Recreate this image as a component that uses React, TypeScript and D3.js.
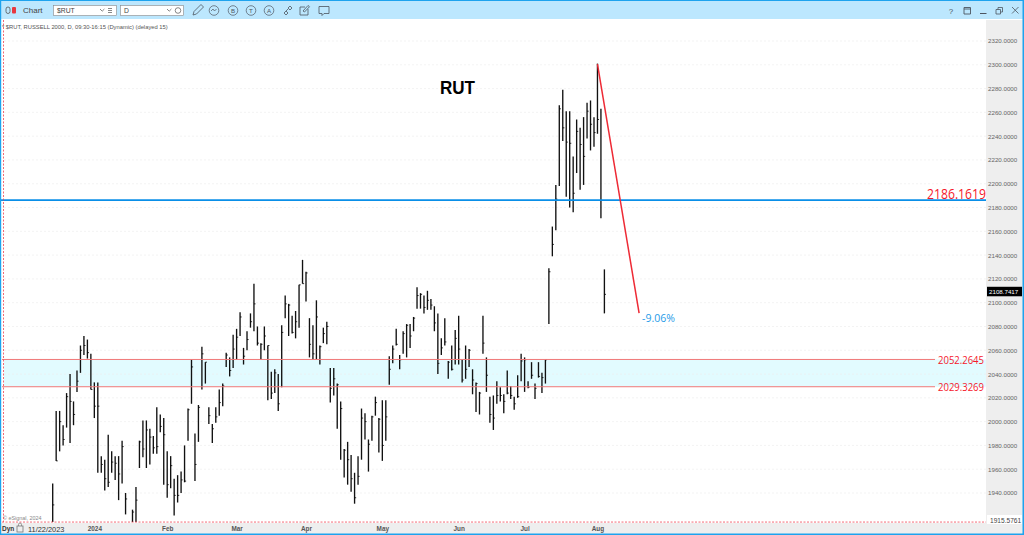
import React, { useRef, useEffect } from 'react';
import * as d3 from 'd3';

// daily bars, first bar is around 22 Dec 2023
const highs = [
  1948, 2009, 2009, 1997, 2024, 2040, 2017, 2043, 2064, 2072, 2069, 2057, 2033, 2033, 1971, 1968, 1989, 1975, 1971, 1971,
  1984, 1940, 1912, 1926, 1945, 1984, 2001, 2001, 1994, 1988, 2012, 2006, 2003, 1975, 1971, 1952, 1955, 1958, 1980, 2011,
  2052, 1990, 2014, 2063, 2050, 2012, 1998, 2012, 2027, 2032, 2058, 2054, 2073, 2078, 2092, 2062, 2076, 2091, 2116, 2080,
  2066, 2080, 2064, 2042, 2044, 2040, 2081, 2106, 2099, 2089, 2093, 2115, 2136, 2126, 2087, 2081, 2102, 2064, 2079, 2084,
  2045, 2045, 2032, 2017, 1977, 1983, 1972, 1957, 1971, 2011, 2007, 1985, 2005, 2021, 2003, 2018, 2018, 2055, 2064, 2078,
  2056, 2076, 2082, 2082, 2088, 2113, 2108, 2106, 2110, 2103, 2097, 2091, 2070, 2087, 2051, 2064, 2077, 2089, 2052, 2064,
  2061, 2044, 2033, 2025, 2089, 2054, 2021, 2022, 2034, 2029, 2023, 2043, 2030, 2021, 2039, 2057, 2054, 2034, 2050, 2032,
  2050, 2041, 2052, 2129, 2164, 2199, 2266, 2279, 2261, 2261, 2223, 2254, 2247, 2256, 2268, 2270, 2256, 2301, 2263, 2128,
];
const lows = [
  1905, 1967, 1975, 1980, 1995, 1982, 1997, 2025, 2041, 2056, 2053, 2027, 2003, 1957, 1957, 1942, 1945, 1957, 1951, 1934,
  1948, 1922, 1905, 1915, 1915, 1961, 1970, 1961, 1964, 1973, 1973, 1991, 1947, 1936, 1944, 1921, 1932, 1940, 1949, 1984,
  2015, 1950, 1983, 2027, 2032, 1998, 1982, 1999, 2005, 2013, 2046, 2038, 2045, 2052, 2072, 2048, 2060, 2079, 2076, 2064,
  2052, 2060, 2018, 2019, 2024, 2009, 2029, 2087, 2072, 2074, 2070, 2079, 2116, 2101, 2054, 2052, 2052, 2048, 2066, 2065,
  2016, 2022, 1994, 1968, 1953, 1947, 1941, 1931, 1947, 1968, 1985, 1958, 1984, 2005, 1974, 1967, 1984, 2031, 2049, 2064,
  2044, 2057, 2054, 2062, 2076, 2095, 2095, 2091, 2094, 2094, 2076, 2040, 2056, 2064, 2036, 2043, 2048, 2048, 2033, 2036,
  2046, 2023, 2008, 2006, 2057, 2025, 1999, 1993, 2015, 2017, 2007, 2023, 2019, 2010, 2020, 2034, 2025, 2028, 2036, 2019,
  2037, 2024, 2032, 2082, 2139, 2161, 2198, 2236, 2189, 2180, 2176, 2209, 2195, 2199, 2238, 2228, 2231, 2242, 2171, 2091,
];
const closes = [
  1930, 1967, 2000, 1985, 2021, 2017, 2006, 2034, 2060, 2064, 2058, 2027, 2013, 2013, 1964, 1952, 1949, 1966, 1965, 1956,
  1979, 1935, 1908, 1924, 1934, 1983, 1977, 1993, 1987, 1978, 1979, 1996, 1989, 1947, 1963, 1938, 1938, 1951, 1950, 2010,
  2046, 1964, 2012, 2057, 2050, 2005, 1994, 2004, 2016, 2030, 2056, 2043, 2061, 2071, 2088, 2055, 2069, 2084, 2099, 2066,
  2065, 2072, 2064, 2024, 2041, 2015, 2075, 2099, 2098, 2075, 2084, 2115, 2116, 2125, 2065, 2057, 2088, 2063, 2074, 2080,
  2028, 2036, 2031, 2011, 1976, 1968, 1952, 1936, 1954, 2003, 2000, 1981, 2004, 2016, 2002, 1980, 2004, 2044, 2061, 2065,
  2052, 2074, 2081, 2072, 2087, 2106, 2107, 2096, 2102, 2098, 2083, 2049, 2062, 2067, 2050, 2044, 2070, 2061, 2035, 2044,
  2060, 2035, 2032, 2024, 2066, 2039, 2006, 2003, 2022, 2022, 2017, 2024, 2022, 2015, 2021, 2051, 2052, 2029, 2039, 2028,
  2038, 2037, 2052, 2126, 2149, 2187, 2263, 2247, 2235, 2234, 2192, 2244, 2233, 2223, 2261, 2250, 2243, 2254, 2186, 2107,
];

const monthLabels = ['2024', 'Feb', 'Mar', 'Apr', 'May', 'Jun', 'Jul', 'Aug'];
const monthBars = [12, 33, 53, 73, 95, 117, 136, 157];
const priceTicks = [1940, 1960, 1980, 2000, 2020, 2040, 2060, 2080, 2100, 2120, 2140, 2160, 2180, 2200, 2220, 2240, 2260, 2280, 2300, 2320];

const zoneTop = 2052.2645;
const zoneBottom = 2029.3269;
const supportLevel = 2186.1619;
const axisMin = 1915.5761;
const lastTag = 2108.7417;
const dropFrom = { bar: 157, price: 2300.6 };
const dropTo = { bar: 169, price: 2091.3 };

const width = 1024;
const height = 535;
const plotRight = 986;
const plotBottom = 522;
const uiFont = '"Liberation Sans", Arial, sans-serif';
const labelFont = '"Open Sans", "Noto Sans", sans-serif';

const App: React.FC = () => {
  const svgRef = useRef<SVGSVGElement>(null);

  useEffect(() => {
    if (!svgRef.current) return;
    const svg = d3.select(svgRef.current);
    svg.selectAll('*').remove();

    const x = d3.scaleLinear().domain([0, 159]).range([52.7, 604.4]);
    const y = d3.scaleLinear().domain([1940, 2320]).range([493, 41]);

    svg.append('rect').attr('width', width).attr('height', height).attr('fill', '#fff');

    const defs = svg.append('defs');
    defs.append('clipPath').attr('id', 'plot-clip').append('rect')
      .attr('x', 4).attr('y', 20).attr('width', plotRight - 4).attr('height', plotBottom - 20);

    // zone + grid
    svg.append('rect')
      .attr('x', 4).attr('y', y(zoneTop))
      .attr('width', plotRight - 4).attr('height', y(zoneBottom) - y(zoneTop))
      .attr('fill', '#e2fbff');

    svg.append('g').selectAll('line').data(priceTicks).enter().append('line')
      .attr('x1', 4).attr('x2', plotRight)
      .attr('y1', d => y(d)).attr('y2', d => y(d))
      .attr('stroke', '#eeeeee').attr('stroke-width', 0.7).attr('stroke-dasharray', '2,2');

    // bars
    const bars = svg.append('g').attr('clip-path', 'url(#plot-clip)');
    highs.forEach((h, i) => {
      const px = x(i);
      bars.append('line').attr('x1', px).attr('x2', px)
        .attr('y1', y(h)).attr('y2', y(lows[i]))
        .attr('stroke', '#111').attr('stroke-width', 1.35);
      bars.append('line').attr('x1', px).attr('x2', px + 1.6)
        .attr('y1', y(closes[i])).attr('y2', y(closes[i]))
        .attr('stroke', '#000').attr('stroke-width', 0.8);
    });

    // levels
    [zoneTop, zoneBottom].forEach(v => {
      svg.append('line').attr('x1', 2).attr('x2', 935)
        .attr('y1', y(v)).attr('y2', y(v))
        .attr('stroke', '#f07878').attr('stroke-width', 1);
      svg.append('text').attr('x', 938).attr('y', y(v) + 4.5)
        .attr('textLength', 46).attr('lengthAdjust', 'spacingAndGlyphs').attr('fill', '#f5182c')
        .style('font', `11.5px ${labelFont}`).text(v.toFixed(4));
    });

    svg.append('line').attr('x1', 0).attr('x2', plotRight)
      .attr('y1', y(supportLevel)).attr('y2', y(supportLevel))
      .attr('stroke', '#0a8fe8').attr('stroke-width', 1.8);
    svg.append('text').attr('x', 927).attr('y', y(supportLevel) - 1)
      .attr('textLength', 59).attr('lengthAdjust', 'spacingAndGlyphs').attr('fill', '#f5182c')
      .style('font', `14px ${labelFont}`).text(supportLevel.toFixed(4));

    // drop line
    svg.append('line')
      .attr('x1', x(dropFrom.bar)).attr('y1', y(dropFrom.price))
      .attr('x2', x(dropTo.bar)).attr('y2', y(dropTo.price))
      .attr('stroke', '#ee2a35').attr('stroke-width', 1.5);
    svg.append('text').attr('x', x(dropTo.bar) + 3).attr('y', y(dropTo.price) + 9)
      .attr('fill', '#1f9be8').style('font', `10.5px ${labelFont}`).text('-9.06%');

    svg.append('text').attr('x', 440).attr('y', 94)
      .attr('textLength', 35).attr('lengthAdjust', 'spacingAndGlyphs')
      .attr('fill', '#000').style('font', `bold 18px ${uiFont}`).text('RUT');

    svg.append('text').attr('x', 2).attr('y', 29).attr('fill', '#555')
      .style('font', `5.8px ${uiFont}`).text('* $RUT, RUSSELL 2000, D, 09:30-16:15 (Dynamic) (delayed 15)');
    svg.append('text').attr('x', 3).attr('y', 520).attr('fill', '#888')
      .style('font', `5.4px ${uiFont}`).text('© eSignal, 2024');

    // axis panels
    svg.append('rect').attr('x', plotRight).attr('y', 20)
      .attr('width', width - plotRight).attr('height', height - 20).attr('fill', '#eeeeee');
    svg.append('rect').attr('x', 0).attr('y', plotBottom + 1)
      .attr('width', width).attr('height', height - plotBottom - 1).attr('fill', '#eeeeee');

    const yAxis = d3.axisRight(y).tickValues(priceTicks).tickSize(0)
      .tickFormat(d => (d as number).toFixed(4));
    const yG = svg.append('g').attr('transform', `translate(${plotRight},0)`).call(yAxis);
    yG.select('.domain').remove();
    yG.selectAll('text').attr('x', 2).attr('fill', '#666').style('font', `6.2px ${uiFont}`);

    const xAxis = d3.axisBottom(x).tickValues(monthBars).tickSize(0)
      .tickFormat((_, i) => monthLabels[i]);
    const xG = svg.append('g').attr('transform', `translate(0,${plotBottom + 1})`).call(xAxis);
    xG.select('.domain').remove();
    xG.selectAll('text').attr('y', 3).attr('fill', '#555').style('font', `bold 6.4px ${uiFont}`);

    // bottom dashed limit + left dashed edge
    svg.append('line').attr('x1', 2).attr('x2', plotRight)
      .attr('y1', y(axisMin)).attr('y2', y(axisMin))
      .attr('stroke', '#f04050').attr('stroke-width', 0.8).attr('stroke-dasharray', '2,1.5');
    svg.append('line').attr('x1', 3.5).attr('x2', 3.5).attr('y1', 20).attr('y2', plotBottom)
      .attr('stroke', '#f04050').attr('stroke-width', 0.8).attr('stroke-dasharray', '2,1.5');

    svg.append('rect').attr('x', 987).attr('y', y(axisMin) - 7).attr('width', 35).attr('height', 9).attr('fill', '#fff');
    svg.append('text').attr('x', 990).attr('y', y(axisMin) + 0.5).attr('fill', '#444')
      .style('font', `6.6px ${uiFont}`).text(axisMin.toFixed(4));

    svg.append('rect').attr('x', 987).attr('y', y(lastTag) - 5.5).attr('width', 35).attr('height', 9.5).attr('fill', '#000');
    svg.append('text').attr('x', 989).attr('y', y(lastTag) + 1.5).attr('fill', '#fff')
      .style('font', `6.2px ${uiFont}`).text(lastTag.toFixed(4));

    // footer date
    svg.append('text').attr('x', 2).attr('y', 531).attr('fill', '#333')
      .style('font', `bold 6.5px ${uiFont}`).text('Dyn');
    svg.append('rect').attr('x', 17).attr('y', 526).attr('width', 6).attr('height', 6)
      .attr('fill', 'none').attr('stroke', '#777').attr('stroke-width', 0.8);
    svg.append('path').attr('d', 'M18.5,526 v-1.5 a1.5,1.5 0 0 1 3,0 v1.5')
      .attr('fill', 'none').attr('stroke', '#777').attr('stroke-width', 0.7);
    svg.append('text').attr('x', 28).attr('y', 532).attr('fill', '#333')
      .style('font', `7.4px ${uiFont}`).text('11/22/2023');

    // toolbar
    svg.append('rect').attr('width', width).attr('height', 19).attr('fill', '#bce7fe');
    svg.append('rect').attr('width', width).attr('height', 1).attr('fill', '#1ea3ee');
    svg.append('rect').attr('x', 0).attr('width', 1.2).attr('height', height).attr('fill', '#1ea3ee');
    svg.append('rect').attr('x', width - 1.5).attr('width', 1.5).attr('height', height).attr('fill', '#1ea3ee');
    svg.append('rect').attr('y', height - 1.5).attr('width', width).attr('height', 1.5).attr('fill', '#1ea3ee');

    svg.append('rect').attr('x', 6).attr('y', 7).attr('width', 4).attr('height', 6.5).attr('rx', 2)
      .attr('fill', 'none').attr('stroke', '#555').attr('stroke-width', 0.8);
    svg.append('rect').attr('x', 12).attr('y', 7).attr('width', 4).attr('height', 6.5).attr('rx', 1)
      .attr('fill', '#e8383f');
    svg.append('text').attr('x', 23).attr('y', 13).attr('fill', '#444')
      .style('font', `8px ${uiFont}`).text('Chart');

    const boxes = [{ bx: 53, bw: 63, label: '$RUT' }, { bx: 120, bw: 63, label: 'D' }];
    boxes.forEach(b => {
      svg.append('rect').attr('x', b.bx + 0.5).attr('y', 5.5).attr('width', b.bw).attr('height', 10)
        .attr('fill', '#fff').attr('stroke', '#888').attr('stroke-width', 0.6);
      svg.append('text').attr('x', b.bx + 4).attr('y', 13).attr('fill', '#444')
        .style('font', `6.8px ${uiFont}`).text(b.label);
      svg.append('path').attr('d', `M${b.bx + 47},9 l2.2,2.2 l2.2,-2.2`)
        .attr('fill', 'none').attr('stroke', '#555').attr('stroke-width', 0.7);
    });
    svg.append('path').attr('d', 'M108,8.5h4M108,10.5h4M108,12.5h4').attr('stroke', '#555').attr('stroke-width', 0.7);
    svg.append('circle').attr('cx', 178).attr('cy', 10.5).attr('r', 2.8)
      .attr('fill', 'none').attr('stroke', '#555').attr('stroke-width', 0.7);

    const ink = '#4d5560';
    // pencil, wave, B, T, A, link, note, comment
    svg.append('path').attr('d', 'M193,15 l1,-3.5 l7,-7 l2.5,2.5 l-7,7 z').attr('fill', 'none').attr('stroke', ink).attr('stroke-width', 0.8);
    svg.append('circle').attr('cx', 214).attr('cy', 10.5).attr('r', 4.8).attr('fill', 'none').attr('stroke', ink).attr('stroke-width', 0.7);
    svg.append('path').attr('d', 'M211,11 l2,-2 l1.5,2 l2,-2').attr('fill', 'none').attr('stroke', ink).attr('stroke-width', 0.7);
    [['B', 233], ['T', 251], ['A', 269]].forEach(([t, cx]) => {
      svg.append('circle').attr('cx', cx as number).attr('cy', 10.5).attr('r', 4.8)
        .attr('fill', 'none').attr('stroke', ink).attr('stroke-width', 0.7);
      svg.append('text').attr('x', cx as number).attr('y', 12.8).attr('text-anchor', 'middle')
        .attr('fill', ink).style('font', `6.2px ${uiFont}`).text(t as string);
    });
    svg.append('path').attr('d', 'M284,13 l2,2 l2,-2 l-2,-2 z M288,8 l2,2 l2,-2 l-2,-2 z M286,11 l2,-2').attr('fill', 'none').attr('stroke', ink).attr('stroke-width', 0.8);
    svg.append('path').attr('d', 'M308,9 v6 h-8 v-8 h5 M303,11 l5,-5.5 l1.5,1.2 l-5,5.3 z').attr('fill', 'none').attr('stroke', ink).attr('stroke-width', 0.8);
    svg.append('path').attr('d', 'M319,6.5 h10 v7 h-5 l-2,2 v-2 h-3 z').attr('fill', 'none').attr('stroke', ink).attr('stroke-width', 0.8);

    svg.append('text').attr('x', 951).attr('y', 14).attr('text-anchor', 'middle').attr('fill', ink)
      .style('font', `8px ${uiFont}`).text('?');
    svg.append('path').attr('d', 'M964,7.5 h6.5 v6.5 h-6.5 z M964,9 h6.5').attr('fill', 'none').attr('stroke', ink).attr('stroke-width', 0.9);
    svg.append('path').attr('d', 'M980,13.5 h6.5').attr('stroke', ink).attr('stroke-width', 1);
    svg.append('path').attr('d', 'M996,9.5 h4.5 v4.5 h-4.5 z M998,9.5 v-2 h4.5 v4.5 h-2').attr('fill', 'none').attr('stroke', ink).attr('stroke-width', 0.8);
    svg.append('path').attr('d', 'M1012,7 l6.5,6.5 M1018.5,7 l-6.5,6.5').attr('stroke', ink).attr('stroke-width', 0.8);
  }, []);

  return (
    <svg
      ref={svgRef}
      width={width}
      height={height}
      style={{ position: 'absolute', left: 0, top: 0, display: 'block' }}
    />
  );
};

export default App;
